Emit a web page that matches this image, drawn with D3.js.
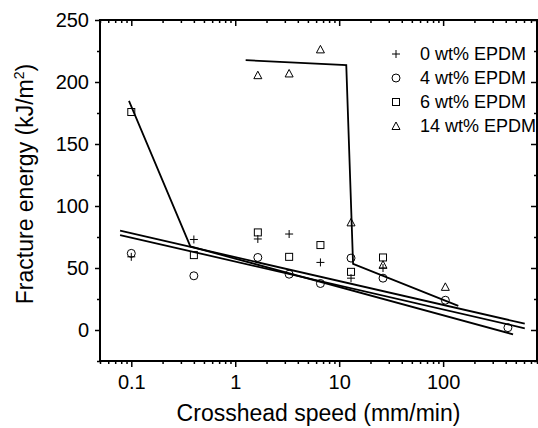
<!DOCTYPE html>
<html>
<head>
<meta charset="utf-8">
<script src="https://cdn.jsdelivr.net/npm/d3@7"></script>
<style>
  body { margin: 0; background: #fff; }
  svg { display: block; font-family: Arial, 'Liberation Sans', sans-serif; }
</style>
</head>
<body>
<div id="chart"></div>
<script>
// Crosshead speeds (mm/min) at which samples were tested.
const speeds = [0.1, 0.4, 1.65, 3.3, 6.6, 13, 26.4, 105, 420];

// Fracture energy (kJ/m2) per EPDM content, null where no point.
const epdm0 = [59, 73, 73.4, 77.4, 54.5, 41.8, 50, null, null];
const epdm4 = [61.8, 43.7, 58.5, 45, 37.5, 58, 41.8, 24, 1.9];
const epdm6 = [175.8, 60.4, 78.7, 59, 68.5, 46.9, 58.5, null, null];
const epdm14 = [null, null, 205.5, 206.9, 226.3, 86.8, 52.6, 34.8, null];

const seriesNames = ['0 wt% EPDM', '4 wt% EPDM', '6 wt% EPDM', '14 wt% EPDM'];
const seriesSymbols = ['plus', 'circle', 'square', 'triangle'];

// Trend lines, [speed, energy] vertices.
const fitUpper = [[0.078, 80.1], [610, 5.1]];
const fitLower = [[0.078, 76.6], [610, 1.4]];
const fitSquare = [[0.095, 184.7], [0.37, 67.4], [471, -3.5]];
const fitTriangle = [[1.26, 217.6], [11.7, 213.6], [13.6, 53.4], [140, 19.5]];

const yTicks = [0, 50, 100, 150, 200, 250];
const xTicks = [0.1, 1, 10, 100];

const width = 538, height = 428;
const margin = { top: 20, right: 1, bottom: 67, left: 100 };
const w = width - margin.left - margin.right;
const h = height - margin.top - margin.bottom;

const x = d3.scaleLog().domain([0.05, 800]).range([0, w]);
const y = d3.scaleLinear().domain([-25, 250]).range([h, 0]);

const svg = d3.select('#chart').append('svg')
  .attr('width', width)
  .attr('height', height);

const g = svg.append('g')
  .attr('transform', `translate(${margin.left},${margin.top})`);

// Minor ticks: every 25 on y, 2..9 per decade on x.
const yMinor = d3.range(-25, 251, 25).filter(v => yTicks.indexOf(v) < 0);
const xMinor = [];
[0.01, 0.1, 1, 10, 100].forEach(dec => {
  for (let k = 2; k <= 9; k++) {
    const v = dec * k;
    if (v >= 0.05 && v <= 800) xMinor.push(v);
  }
});

function axisStyle(sel) {
  sel.select('.domain').remove();
  sel.selectAll('line').attr('stroke', '#000').attr('stroke-width', 1.5);
  sel.selectAll('text')
    .attr('fill', '#000')
    .style('font-size', '20px');
}

// Bottom axis (ticks outward).
g.append('g')
  .attr('transform', `translate(0,${h})`)
  .call(d3.axisBottom(x).tickValues(xTicks).tickSize(6).tickPadding(8)
    .tickFormat(d => d3.format('~g')(d)))
  .call(axisStyle);
g.append('g')
  .attr('transform', `translate(0,${h})`)
  .call(d3.axisBottom(x).tickValues(xMinor).tickSize(3).tickFormat(''))
  .call(axisStyle);

// Top axis (ticks inward).
g.append('g')
  .call(d3.axisBottom(x).tickValues(xTicks).tickSize(6).tickFormat(''))
  .call(axisStyle);
g.append('g')
  .call(d3.axisBottom(x).tickValues(xMinor).tickSize(3).tickFormat(''))
  .call(axisStyle);

// Left axis (ticks outward).
g.append('g')
  .call(d3.axisLeft(y).tickValues(yTicks).tickSize(5).tickPadding(6))
  .call(axisStyle);
g.append('g')
  .call(d3.axisLeft(y).tickValues(yMinor).tickSize(3).tickFormat(''))
  .call(axisStyle);

// Right axis (ticks inward).
g.append('g')
  .attr('transform', `translate(${w},0)`)
  .call(d3.axisLeft(y).tickValues(yTicks).tickSize(6).tickFormat(''))
  .call(axisStyle);
g.append('g')
  .attr('transform', `translate(${w},0)`)
  .call(d3.axisLeft(y).tickValues(yMinor).tickSize(3).tickFormat(''))
  .call(axisStyle);

// Frame.
g.append('rect')
  .attr('width', w)
  .attr('height', h)
  .attr('fill', 'none')
  .attr('stroke', '#000')
  .attr('stroke-width', 2);

// Trend lines.
const line = d3.line().x(d => x(d[0])).y(d => y(d[1]));
[fitUpper, fitLower, fitSquare, fitTriangle].forEach(pts => {
  g.append('path')
    .attr('d', line(pts))
    .attr('fill', 'none')
    .attr('stroke', '#000')
    .attr('stroke-width', 1.8);
});

function drawSymbol(sel, type, cx, cy) {
  const s = sel.append('g').attr('transform', `translate(${cx},${cy})`)
    .attr('fill', 'none').attr('stroke', '#000').attr('stroke-width', 1);
  if (type === 'plus') {
    s.append('path').attr('d', 'M-4,0H4M0,-4V4');
  } else if (type === 'circle') {
    s.append('circle').attr('r', 4);
  } else if (type === 'square') {
    s.append('rect').attr('x', -3.5).attr('y', -3.5).attr('width', 7).attr('height', 7);
  } else {
    s.append('path').attr('d', 'M0,-4L4,3.5H-4Z');
  }
}

// Data points.
const pts = g.append('g');
[epdm0, epdm4, epdm6, epdm14].forEach((vals, i) => {
  vals.forEach((v, j) => {
    if (v == null) return;
    drawSymbol(pts, seriesSymbols[i], x(speeds[j]), y(v));
  });
});

// Legend.
const legend = svg.append('g').attr('transform', 'translate(396,54)');
seriesNames.forEach((name, i) => {
  const row = legend.append('g').attr('transform', `translate(0,${i * 24})`);
  drawSymbol(row, seriesSymbols[i], 0, 0);
  row.append('text')
    .attr('x', 24)
    .attr('dy', '0.35em')
    .style('font-size', '18px')
    .text(name);
});

// Axis titles.
svg.append('text')
  .attr('x', margin.left + w / 2)
  .attr('y', 421)
  .attr('text-anchor', 'middle')
  .style('font-size', '23px')
  .text('Crosshead speed (mm/min)');

const yTitle = svg.append('text')
  .attr('transform', 'translate(33,184) rotate(-90)')
  .attr('text-anchor', 'middle')
  .style('font-size', '23px');
yTitle.append('tspan').text('Fracture energy (kJ/m');
yTitle.append('tspan').attr('dy', -9).style('font-size', '14px').text('2');
yTitle.append('tspan').attr('dy', 9).text(')');
</script>
</body>
</html>
